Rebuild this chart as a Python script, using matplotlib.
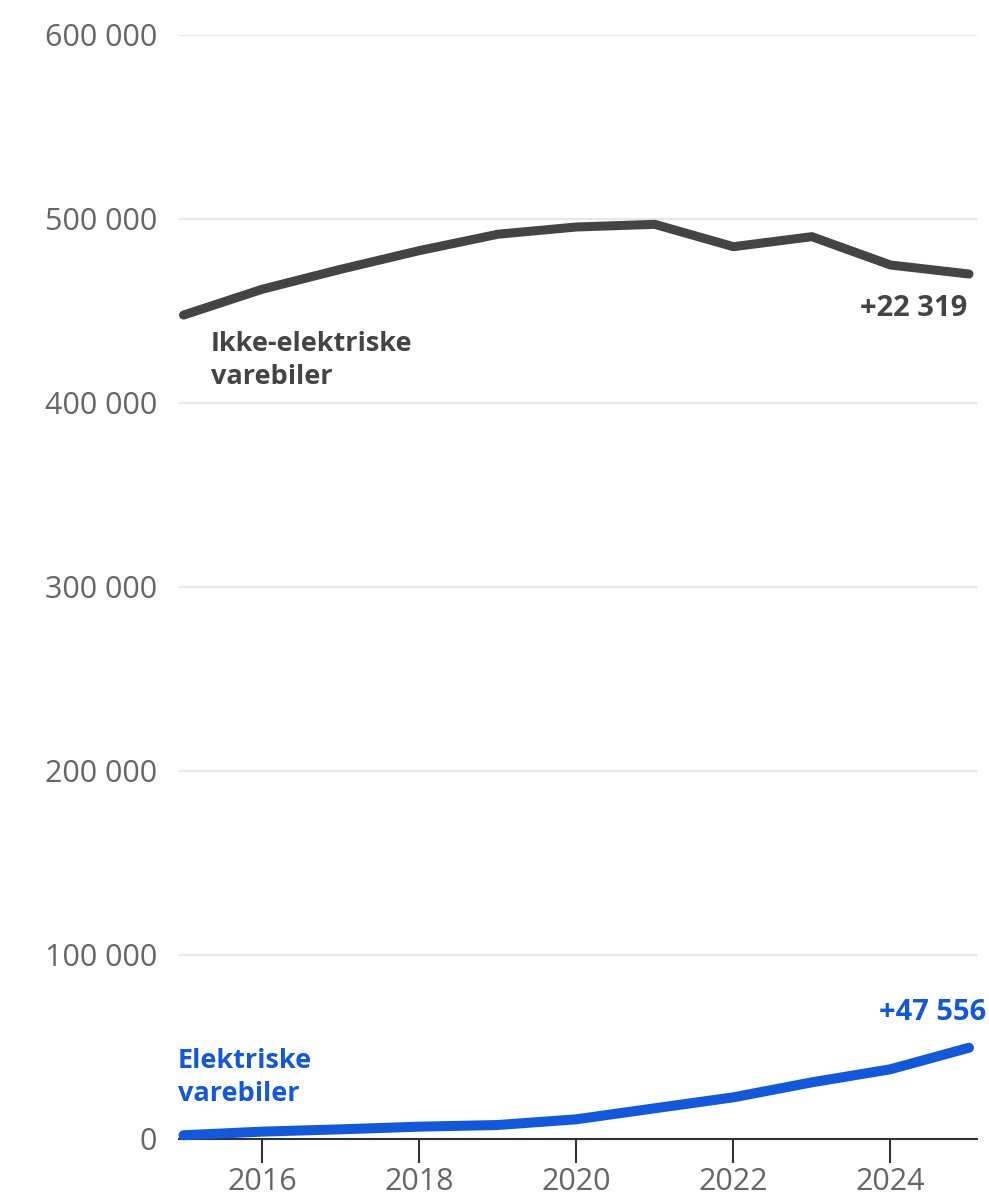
import matplotlib
matplotlib.use("Agg")
import matplotlib.pyplot as plt
from matplotlib.ticker import FuncFormatter, FixedLocator

plt.rcParams['font.family'] = ['Open Sans', 'DejaVu Sans']

# Registered vans in Norway by powertrain
years = [2015, 2016, 2017, 2018, 2019, 2020, 2021, 2022, 2023, 2024, 2025]
non_electric = [447781, 461800, 472650, 482800, 491700, 495650, 497100,
                484950, 490400, 475000, 470100]
electric = [2044, 4000, 5250, 6700, 7600, 10700, 16700, 22650, 30800,
            37900, 49600]

label_non_electric = "Ikke-elektriske\nvarebiler"
label_electric = "Elektriske\nvarebiler"
y_ticks = [0, 100000, 200000, 300000, 400000, 500000, 600000]
x_ticks = [2016, 2018, 2020, 2022, 2024]

GREY = "#444444"
BLUE = "#1158dc"
GRID = "#e6e6e6"
TICK_TEXT = "#666666"
AXIS = "#333333"

W, H = 989, 1194
fig = plt.figure(figsize=(W / 100, H / 100), dpi=100)
left, right = 179 / W, 977 / W
bottom, top = (H - 1139) / H, (H - 35) / H
ax = fig.add_axes([left, bottom, right - left, top - bottom])

ax.set_xlim(2015 - 4.5 / 78.6, 2025 + 8 / 78.6)
ax.set_ylim(0, 600000)

for v in y_ticks[1:]:
    ax.axhline(v, color=GRID, lw=1.5, zorder=0)

ax.plot(years, non_electric, color=GREY, lw=6.5, solid_capstyle='round',
        solid_joinstyle='round', clip_on=False, zorder=3)
ax.plot(years, electric, color=BLUE, lw=7.2, solid_capstyle='round',
        solid_joinstyle='round', clip_on=False, zorder=3)

for s in ['top', 'right', 'left']:
    ax.spines[s].set_visible(False)
ax.spines['bottom'].set_color(AXIS)
ax.spines['bottom'].set_linewidth(1.5)
ax.spines['bottom'].set_zorder(2)

ax.yaxis.set_major_locator(FixedLocator(y_ticks))
ax.yaxis.set_major_formatter(FuncFormatter(lambda v, p: f"{v:,.0f}".replace(",", " ")))
ax.tick_params(axis='y', length=0, pad=16, labelsize=22, labelcolor=TICK_TEXT)
ax.xaxis.set_major_locator(FixedLocator(x_ticks))
ax.tick_params(axis='x', length=17, width=1.5, color=AXIS, pad=3,
               labelsize=22, labelcolor=TICK_TEXT)

change_non = non_electric[-1] - non_electric[0]
change_el = electric[-1] - electric[0]


def fmt_change(v):
    return "+" + f"{v:,.0f}".replace(",", " ")


def px_to_data(px, py):
    return 2015 + (px - 183.5) / 78.6, (1139 - py) / 1.84 * 1000


x, y = px_to_data(211, 331)
ax.text(x, y, label_non_electric, color=GREY, fontsize=19.5, fontweight='bold',
        ha='left', va='top', linespacing=1.33)
x, y = px_to_data(968, 316)
ax.text(x, y, fmt_change(change_non), color=GREY, fontsize=21,
        fontweight='bold', ha='right', va='baseline')
x, y = px_to_data(178, 1048)
ax.text(x, y, label_electric, color=BLUE, fontsize=19.5, fontweight='bold',
        ha='left', va='top', linespacing=1.33)
x, y = px_to_data(987, 1020)
ax.text(x, y, fmt_change(change_el), color=BLUE, fontsize=21,
        fontweight='bold', ha='right', va='baseline', clip_on=False)

fig.savefig("out.png", dpi=100)
